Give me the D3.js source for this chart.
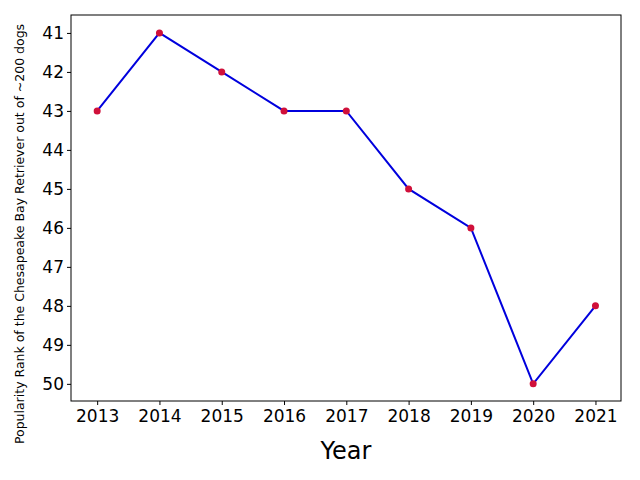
<!DOCTYPE html>
<html><head><meta charset="utf-8">
<script src="https://cdn.jsdelivr.net/npm/d3@7"></script>
<style>body{margin:0;background:#fff}</style>
</head><body>
<svg id="c" width="640" height="480"></svg>
<script>
const years = [2013,2014,2015,2016,2017,2018,2019,2020,2021];
const ranks = [43,41,42,43,43,45,46,50,48];
const yTicks = [41,42,43,44,45,46,47,48,49,50];

const svg = d3.select("#c");
const L=71,R=621,T=15,B=401;
const x = d3.scaleLinear().domain([2012.58,2021.41]).range([L,R]);
const y = d3.scaleLinear().domain([40.54,50.44]).range([T,B]);
const font = "DejaVu Sans, sans-serif";

svg.append("g").attr("transform",`translate(0,${B})`)
  .call(d3.axisBottom(x).tickValues(years).tickFormat(d3.format("d")).tickSize(4).tickSizeOuter(0))
  .call(g=>g.selectAll("text").attr("font-size",17).attr("font-family",font).attr("fill","#000").attr("dy","0.85em"))
  .call(g=>g.select(".domain").remove());
svg.append("g").attr("transform",`translate(${L},0)`)
  .call(d3.axisLeft(y).tickValues(yTicks).tickSize(4).tickSizeOuter(0))
  .call(g=>g.selectAll("text").attr("font-size",17).attr("font-family",font).attr("fill","#000").attr("dy","0.35em"))
  .call(g=>g.select(".domain").remove());
svg.append("rect").attr("x",L).attr("y",T).attr("width",R-L).attr("height",B-T)
  .attr("fill","none").attr("stroke","#000").attr("stroke-width",1);

const pts = years.map((yr,i)=>[yr,ranks[i]]);
svg.append("path").datum(pts).attr("fill","none").attr("stroke","#0000dd").attr("stroke-width",2)
  .attr("d",d3.line().x(d=>x(d[0])).y(d=>y(d[1])));
svg.selectAll("circle.p").data(pts).join("circle").attr("cx",d=>x(d[0])).attr("cy",d=>y(d[1]))
  .attr("r",3.5).attr("fill","#d0103a");

svg.append("text").attr("x",(L+R)/2).attr("y",459).attr("text-anchor","middle")
  .attr("font-size",24).attr("font-family",font).text("Year");
svg.append("text").attr("transform",`translate(24,234) rotate(-90)`).attr("text-anchor","middle")
  .attr("font-size",12.5).attr("font-family",font).text("Popularity Rank of the Chesapeake Bay Retriever out of ~200 dogs");
</script>
</body></html>
